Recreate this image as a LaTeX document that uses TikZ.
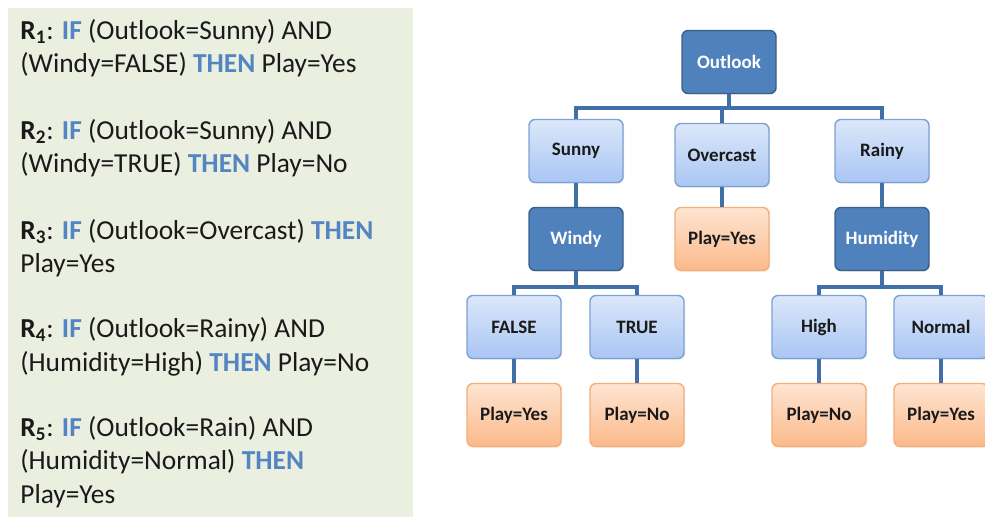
\documentclass[tikz,border=0pt]{standalone}
\usepackage{fontspec}
\setmainfont{Carlito}
\usepackage{xcolor}
\usetikzlibrary{shadows}
\definecolor{vpanel}{HTML}{EBEFDF}
\definecolor{vtext}{HTML}{1A1A1A}
\definecolor{vkey}{HTML}{5485C3}
\definecolor{vdark}{HTML}{4F81BD}
\definecolor{vdarkline}{HTML}{3A5F8B}
\definecolor{vlighttop}{HTML}{DCE7FA}
\definecolor{vlightbot}{HTML}{A9C6F3}
\definecolor{vlightline}{HTML}{7EA1D5}
\definecolor{vorangetop}{HTML}{FEE5D2}
\definecolor{vorangebot}{HTML}{FBB98A}
\definecolor{vorangeline}{HTML}{F5AE78}
\definecolor{vlink}{HTML}{416FA8}

\newcommand{\kw}[1]{\textcolor{vkey}{\textbf{#1}}}

\tikzset{
	box/.style={rounded corners=0.12cm, minimum width=1.88cm, minimum height=1.26cm,
		inner sep=0pt, font=\fontsize{10.8}{12}\selectfont\bfseries,
		drop shadow={opacity=0.2, shadow xshift=0.6pt, shadow yshift=-0.6pt}},
	attr/.style={box, fill=vdark, draw=vdarkline, line width=0.8pt, text=white},
	value/.style={box, top color=vlighttop, bottom color=vlightbot, draw=vlightline, line width=0.8pt, text=vtext},
	leaf/.style={box, top color=vorangetop, bottom color=vorangebot, draw=vorangeline, line width=0.8pt, text=vtext},
	rule/.style={anchor=base west, align=left, text=vtext, inner sep=0pt,
		font=\fontsize{15.6}{19}\selectfont},
	link/.style={color=vlink, line width=2.2pt}
}

\begin{document}
\begin{tikzpicture}[x=0.02cm, y=-0.02cm]
		\useasboundingbox (0,0) rectangle (985,517);
		\fill[color=vpanel] (8,8) rectangle (413,517);
		% rules (base = last line)
		\node[rule] (r1) at (20,73) {\textbf{R\textsubscript{1}}: \kw{IF} (Outlook=Sunny) AND\\(Windy=FALSE) \kw{THEN} Play=Yes};
		\node[rule] (r2) at (20,173) {\textbf{R\textsubscript{2}}: \kw{IF} (Outlook=Sunny) AND\\(Windy=TRUE) \kw{THEN} Play=No};
		\node[rule] (r3) at (20,273) {\textbf{R\textsubscript{3}}: \kw{IF} (Outlook=Overcast) \kw{THEN}\\Play=Yes};
		\node[rule] (r4) at (20,371) {\textbf{R\textsubscript{4}}: \kw{IF} (Outlook=Rainy) AND\\(Humidity=High) \kw{THEN} Play=No};
		\node[rule] (r5) at (20,503) {\textbf{R\textsubscript{5}}: \kw{IF} (Outlook=Rain) AND\\(Humidity=Normal) \kw{THEN}\\Play=Yes};
		% tree
		\node[attr] (outlook) at (729,62) {Outlook};
		\node[value] (sunny) at (576,151) {Sunny};
		\node[value] (overcast) at (722,155) {Overcast};
		\node[value] (rainy) at (882,151) {Rainy};
		\node[attr] (windy) at (576,239) {Windy};
		\node[leaf] (yes1) at (722,239) {Play=Yes};
		\node[attr] (humidity) at (882,239) {Humidity};
		\node[value] (false) at (514,327) {FALSE};
		\node[value] (true) at (637,327) {TRUE};
		\node[value] (high) at (819,327) {High};
		\node[value] (normal) at (941,327) {Normal};
		\node[leaf] (yes2) at (514,415) {Play=Yes};
		\node[leaf] (no1) at (637,415) {Play=No};
		\node[leaf] (no2) at (819,415) {Play=No};
		\node[leaf] (yes3) at (941,415) {Play=Yes};
		% connectors
		\draw[link] (outlook.south) -- ++(0,14) -| (sunny.north);
		\draw[link] (outlook.south) ++(0,14) -| (rainy.north);
		\draw[link] (outlook.south) ++(0,14) -| (overcast.north);
		\draw[link] (sunny) -- (windy);
		\draw[link] (rainy) -- (humidity);
		\draw[link] (overcast) -- (yes1);
		\draw[link] (windy.south) -- ++(0,16) -| (false.north);
		\draw[link] (windy.south) ++(0,16) -| (true.north);
		\draw[link] (humidity.south) -- ++(0,16) -| (high.north);
		\draw[link] (humidity.south) ++(0,16) -| (normal.north);
		\draw[link] (false) -- (yes2);
		\draw[link] (true) -- (no1);
		\draw[link] (high) -- (no2);
		\draw[link] (normal) -- (yes3);
	\end{tikzpicture}
\end{document}
